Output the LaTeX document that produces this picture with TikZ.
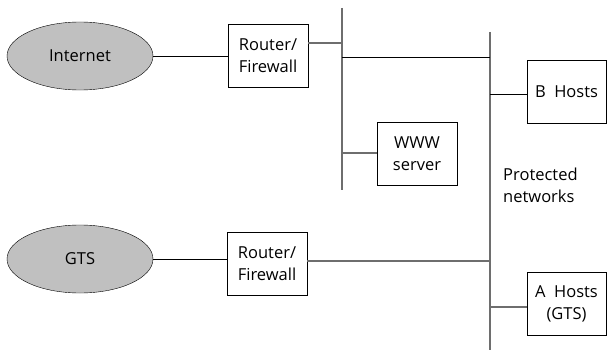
\documentclass[tikz,border=0pt]{standalone}
\usepackage{fontspec}
\setmainfont{Open Sans}
\usetikzlibrary{shapes,positioning,calc}

\definecolor{cloudgray}{RGB}{192,192,192}
\definecolor{busgray}{RGB}{110,110,110}

\begin{document}
\begin{tikzpicture}[x=1pt, y=-1pt, font=\fontsize{16.5}{22}\selectfont,
    cloud/.style={draw, ellipse, fill=cloudgray, minimum width=146pt, minimum height=68pt, inner sep=0pt},
    box/.style={draw, fill=white, align=center, minimum width=80pt, minimum height=63pt, inner sep=1pt},
    bus/.style={draw=busgray, line width=1.6pt},
    link/.style={draw, line width=0.9pt}]
    \useasboundingbox (0,0) rectangle (607,353);
    % networks outside
    \node[cloud] (inet) at (80,56) {Internet};
    \node[cloud] (gts) at (80,259) {GTS};
    % routers and hosts
    \node[box] (rtA) at (268,56) {Router/\\Firewall};
    \node[box] (rtB) at (267,264) {Router/\\Firewall};
    \node[box] (www) at (417,154) {WWW\\server};
    \node[box, minimum width=79pt] (hostB) at (566.5,92) {B~~Hosts};
    \node[box, minimum width=79pt] (hostA) at (566.5,304) {A~~Hosts\\(GTS)};
    % the two buses
    \coordinate (busAtop) at (342,8);
    \coordinate (busAbot) at (342,190);
    \coordinate (busBtop) at (490,32);
    \coordinate (busBbot) at (490,350);
    \draw[bus] (busAtop) -- (busAbot);
    \draw[bus] (busBtop) -- (busBbot);
    \node[align=left, anchor=west, inner sep=0pt] (prot) at (503,185) {Protected\\networks};
    % taps on the buses
    \coordinate (tapRtA) at (342,43);
    \coordinate (tapLink) at (342,57);
    \coordinate (tapWww) at (342,153);
    \coordinate (tapLinkB) at (490,57);
    \coordinate (tapHostB) at (490,94);
    \coordinate (tapRtB) at (490,261);
    \coordinate (tapHostA) at (490,307);
    \draw[link] (inet) -- (rtA);
    \draw[link] (gts.east) -- (gts.east -| rtB.west);
    \draw[link, draw=busgray, line width=1.2pt] (rtA.east |- tapRtA) -- (tapRtA);
    \draw[link] (tapLink) -- (tapLinkB);
    \draw[link, draw=busgray, line width=1.2pt] (tapWww) -- (www.west |- tapWww);
    \draw[link] (tapHostB) -- (hostB.west |- tapHostB);
    \draw[link, draw=busgray, line width=1.2pt] (rtB.east |- tapRtB) -- (tapRtB);
    \draw[link, draw=busgray, line width=1.2pt] (tapHostA) -- (hostA.west |- tapHostA);
\end{tikzpicture}
\end{document}
